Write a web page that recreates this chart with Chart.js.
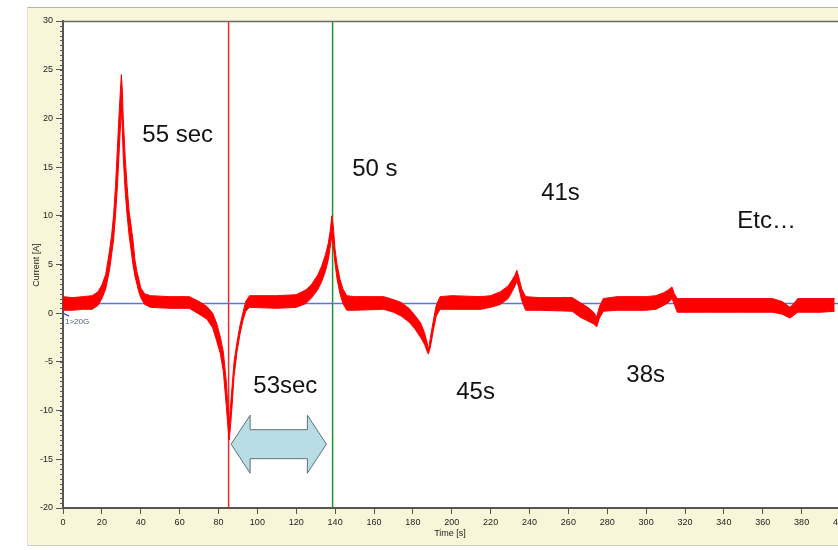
<!DOCTYPE html>
<html><head><meta charset="utf-8">
<script src="https://cdn.jsdelivr.net/npm/chart.js@4.4.1/dist/chart.umd.min.js"></script>
<style>
html,body{margin:0;padding:0;width:838px;height:550px;overflow:hidden;background:#fff;}
#panel{position:absolute;left:27px;top:7px;width:811px;height:537px;background:#f8f6d8;border-top:1px solid #b5b5b5;border-left:1px solid #e2e2e2;border-bottom:1px solid #cfcfcf;}
#wrap{position:absolute;left:0;top:0;width:855px;height:550px;}
</style></head><body>
<div id="panel"></div>
<div id="wrap"><canvas id="c" width="855" height="550"></canvas></div>
<script>
// ---- data ----
const times = [0,5,10,15,18,20,22,24,25,26,27,28,29,30,30.5,31,32,33,34,35,36,37,38,39,40,42,45,55,65,70,74,77,79,81,82.5,84,85,85.5,86,87,88,89.5,91,92.5,94,96,110,120,125,128,131,133,135,136.5,137.5,138.3,139,140,141,142.5,144,146,150,165,170,174,178,181,184,186,187.3,188,189,190.5,192,194,200,215,220,225,229,231,232.5,233.5,234.5,236,238,245,262,266,270,273,274.6,276,278,285,300,305,309,311.5,313.3,314.5,316,330,350,365,370,374,376,378,390,397];
const upperEnv = [1.7,1.6,1.7,1.8,2.2,2.9,4.0,6.5,8.0,10.0,13.0,17.0,21.0,24.5,23.0,20.0,16.0,13.0,10.5,9.0,7.5,5.5,4.3,3.5,2.6,2.0,1.8,1.7,1.7,1.2,0.7,0.0,-1.0,-2.5,-4.0,-7.0,-10.0,-11.5,-10.0,-7.5,-5.0,-3.0,-1.3,0.0,1.2,1.8,1.8,1.9,2.4,3.0,3.9,4.8,6.0,7.2,8.5,10.0,9.0,6.5,5.0,3.5,2.5,1.8,1.7,1.7,1.4,1.1,0.5,-0.2,-1.0,-2.0,-3.0,-3.8,-2.5,-0.8,0.8,1.7,1.8,1.7,1.8,2.2,2.8,3.4,3.9,4.4,3.7,2.5,1.7,1.6,1.6,1.1,0.6,0.1,-0.4,0.7,1.5,1.7,1.7,1.8,2.1,2.4,2.7,2.0,1.5,1.5,1.5,1.5,1.2,0.6,1.0,1.5,1.5,1.5];
const lowerEnv = [0.3,0.3,0.4,0.4,0.8,1.5,2.5,4.5,6.0,7.5,10.0,13.0,17.0,21.0,19.0,16.0,12.5,10.0,8.0,6.5,5.0,3.8,3.0,2.2,1.6,0.9,0.6,0.5,0.5,-0.1,-0.6,-1.5,-2.8,-4.2,-6.0,-9.5,-12.0,-13.0,-12.0,-9.5,-6.5,-4.0,-2.2,-0.8,0.2,0.6,0.5,0.6,1.0,1.6,2.4,3.2,4.3,5.5,6.8,8.0,7.0,5.0,3.5,2.0,1.0,0.3,0.3,0.4,0.1,-0.3,-0.9,-1.6,-2.5,-3.2,-3.9,-4.2,-3.5,-1.8,-0.3,0.4,0.4,0.4,0.6,0.9,1.5,2.2,2.8,3.3,2.6,1.3,0.3,0.3,0.2,-0.4,-0.8,-1.1,-1.4,-0.5,0.2,0.3,0.3,0.4,0.8,1.1,1.5,0.9,0.1,0.1,0.1,0.1,-0.1,-0.5,-0.2,0.1,0.1,0.2];
const refTimes = [0, 400];
const refValues = [1, 1];
const markerTimes = [85.2, 138.7];
const xTicks = [0,20,40,60,80,100,120,140,160,180,200,220,240,260,280,300,320,340,360,380,400];
const yTicks = [-20,-15,-10,-5,0,5,10,15,20,25,30];
const noteTexts = ['55 sec','50 s','41s','Etc\u2026','53sec','45s','38s'];
const noteTimes = [40.8,148.8,246.0,346.9,97.9,202.3,289.8];
const noteValues = [17.6,14.1,11.6,8.7,-8.2,-8.8,-7.1];
const arrowTimes = [86.5, 135.5];
const arrowValue = -13.45;
const xTitle = 'Time [s]';
const yTitle = 'Current [A]';
const traceTag = '1>20G';

const pts = (xs, ys) => xs.map((x, i) => ({x: x, y: ys[i]}));
const tickFont = {family: "'Liberation Sans Narrow','Liberation Sans',Arial,sans-serif", size: 9};

const deco = {
  id: 'deco',
  beforeDraw(chart) {
    const {ctx, chartArea: a} = chart;
    ctx.save();
    ctx.fillStyle = '#ffffff';
    ctx.fillRect(a.left, a.top, a.right - a.left, a.bottom - a.top);
    ctx.restore();
  },
  afterDraw(chart) {
    const {ctx, chartArea: a, scales} = chart;
    const xs = scales.x, ys = scales.y;
    ctx.save();
    ctx.strokeStyle = '#6a6a6a'; ctx.lineWidth = 1.5;
    ctx.beginPath(); ctx.moveTo(a.left, a.top + 0.5); ctx.lineTo(a.right, a.top + 0.5); ctx.stroke();
    ctx.strokeStyle = '#555'; ctx.lineWidth = 1;
    for (let v = -20; v <= 30.001; v += 0.5) {
      const y = Math.round(ys.getPixelForValue(v)) + 0.5;
      ctx.beginPath(); ctx.moveTo(a.left - 3, y); ctx.lineTo(a.left, y); ctx.stroke();
    }
    ctx.fillStyle = '#222';
    ctx.font = "9px 'Liberation Sans Narrow','Liberation Sans',Arial,sans-serif";
    ctx.textAlign = 'center'; ctx.textBaseline = 'middle';
    ctx.fillText(xTitle, 450, 534);
    ctx.save();
    ctx.translate(37, 265); ctx.rotate(-Math.PI / 2);
    ctx.fillText(yTitle, 0, 0);
    ctx.restore();
    ctx.fillStyle = '#4a5a78';
    ctx.font = "8px 'Liberation Sans',Arial,sans-serif";
    ctx.textAlign = 'left'; ctx.textBaseline = 'alphabetic';
    ctx.fillText(traceTag, a.left + 2, ys.getPixelForValue(0) + 11);
    ctx.strokeStyle = '#3a50e0'; ctx.lineWidth = 1.5;
    ctx.beginPath(); ctx.moveTo(a.left, ys.getPixelForValue(0)); ctx.lineTo(a.left + 6, ys.getPixelForValue(0) + 3); ctx.stroke();
    ctx.fillStyle = '#111';
    ctx.font = "24px 'Liberation Sans',Arial,sans-serif";
    noteTexts.forEach((t, i) => {
      ctx.fillText(t, xs.getPixelForValue(noteTimes[i]), ys.getPixelForValue(noteValues[i]));
    });
    const xl = xs.getPixelForValue(arrowTimes[0]), xr = xs.getPixelForValue(arrowTimes[1]);
    const yc = ys.getPixelForValue(arrowValue);
    const hw = 19, hh = 29, sh = 14.5;
    ctx.beginPath();
    ctx.moveTo(xl, yc);
    ctx.lineTo(xl + hw, yc - hh);
    ctx.lineTo(xl + hw, yc - sh);
    ctx.lineTo(xr - hw, yc - sh);
    ctx.lineTo(xr - hw, yc - hh);
    ctx.lineTo(xr, yc);
    ctx.lineTo(xr - hw, yc + hh);
    ctx.lineTo(xr - hw, yc + sh);
    ctx.lineTo(xl + hw, yc + sh);
    ctx.lineTo(xl + hw, yc + hh);
    ctx.closePath();
    ctx.fillStyle = '#b8dde5'; ctx.fill();
    ctx.strokeStyle = '#5f7278'; ctx.lineWidth = 1; ctx.stroke();
    ctx.restore();
  }
};

new Chart(document.getElementById('c'), {
  type: 'line',
  data: {
    datasets: [
      {label: 'upper', data: pts(times, upperEnv), borderColor: '#ff0000', backgroundColor: '#ff0000', fill: '+1', borderWidth: 1, pointRadius: 0, tension: 0, order: 0},
      {label: 'lower', data: pts(times, lowerEnv), borderColor: '#ff0000', backgroundColor: '#ff0000', fill: false, borderWidth: 1, pointRadius: 0, tension: 0, order: 1},
      {label: 'ref', data: pts(refTimes, refValues), borderColor: '#5a70ee', borderWidth: 1.5, pointRadius: 0, fill: false, order: 2},
      {label: 'm1', data: pts([markerTimes[0], markerTimes[0]], [-20, 30]), borderColor: '#f02828', borderWidth: 1.5, pointRadius: 0, fill: false, order: 3},
      {label: 'm2', data: pts([markerTimes[1], markerTimes[1]], [-20, 30]), borderColor: '#1e962a', borderWidth: 1.5, pointRadius: 0, fill: false, order: 3}
    ]
  },
  options: {
    responsive: false, animation: false, devicePixelRatio: 1,
    parsing: false, normalized: true,
    layout: {padding: {left: 0, right: 14.5, top: 21, bottom: 0}},
    plugins: {legend: {display: false}, tooltip: {enabled: false}},
    scales: {
      x: {
        type: 'linear', min: 0, max: 400,
        afterBuildTicks: s => { s.ticks = xTicks.map(v => ({value: v})); },
        afterFit: s => { s.height = 42; },
        ticks: {font: tickFont, color: '#222', padding: 3, maxRotation: 0, autoSkip: false},
        grid: {drawOnChartArea: false, tickLength: 6, color: '#555'},
        border: {color: '#555', width: 2}
      },
      y: {
        type: 'linear', min: -20, max: 30,
        afterBuildTicks: s => { s.ticks = yTicks.map(v => ({value: v})); },
        afterFit: s => { s.width = 63; },
        ticks: {font: tickFont, color: '#222', padding: 3, autoSkip: false},
        grid: {drawOnChartArea: false, tickLength: 7, color: '#555'},
        border: {color: '#555', width: 2}
      }
    }
  },
  plugins: [deco]
});
</script>
</body></html>
